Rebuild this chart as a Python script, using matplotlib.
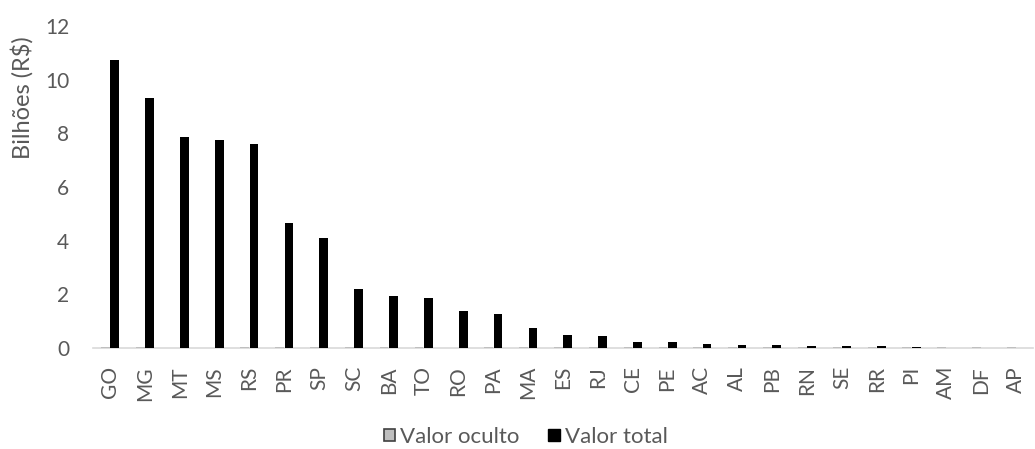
import matplotlib
matplotlib.use('Agg')
import matplotlib.pyplot as plt
from matplotlib.patches import Patch
import numpy as np

# States ordered by total value
states = ['GO', 'MG', 'MT', 'MS', 'RS', 'PR', 'SP', 'SC', 'BA', 'TO', 'RO', 'PA', 'MA',
          'ES', 'RJ', 'CE', 'PE', 'AC', 'AL', 'PB', 'RN', 'SE', 'RR', 'PI', 'AM', 'DF', 'AP']
valor_total = [10.75, 9.3, 7.85, 7.75, 7.6, 4.65, 4.1, 2.2, 1.92, 1.88, 1.37, 1.26, 0.74,
               0.5, 0.44, 0.21, 0.21, 0.16, 0.11, 0.1, 0.09, 0.08, 0.07, 0.02, 0.0, 0.0, 0.0]
valor_oculto = [0.03, 0.03, 0.0, 0.0, 0.03, 0.03, 0.05, 0.03, 0.03, 0.03, 0.0, 0.03, 0.03,
                0.03, 0.03, 0.03, 0.03, 0.03, 0.03, 0.03, 0.03, 0.03, 0.03, 0.04, 0.03, 0.03, 0.03]
y_ticks = [0, 2, 4, 6, 8, 10, 12]

plt.rcParams['font.family'] = ['Lato', 'DejaVu Sans']
text_color = '#595959'

fig = plt.figure(figsize=(10.35, 4.49), dpi=100)
ax = fig.add_axes([0.0895, 0.225, 0.909, 0.717])

x = np.arange(len(states))
w = 0.25
ax.bar(x - 0.135, valor_oculto, w, color='#bfbfbf', label='Valor oculto', zorder=3)
ax.bar(x + 0.135, valor_total, w, color='black', label='Valor total', zorder=3)

ax.set_xlim(-0.5, len(states) - 0.5)
ax.set_ylim(0, 12)
ax.set_yticks(y_ticks)
ax.set_xticks(x)
ax.set_xticklabels(states, rotation=90)
ax.tick_params(axis='both', length=0, labelsize=15, colors=text_color)
ax.tick_params(axis='x', pad=13)
ax.tick_params(axis='y', pad=17)

for side in ['top', 'right', 'left']:
    ax.spines[side].set_visible(False)
ax.spines['bottom'].set_color('#d9d9d9')
ax.spines['bottom'].set_linewidth(1.2)

ax.set_ylabel('Bilhões (R$)', fontsize=17, color=text_color)
ax.yaxis.set_label_coords(-0.063, 0.778)

# legend with square markers
handles = [Patch(facecolor='#bfbfbf', edgecolor='#404040', linewidth=1.2, label='Valor oculto'),
           Patch(facecolor='black', edgecolor='black', label='Valor total')]
fig.legend(handles=handles, loc='center', bbox_to_anchor=(0.508, 0.027), ncol=2,
           frameon=False, fontsize=16, handlelength=0.5, handleheight=0.5,
           handletextpad=0.25, columnspacing=1.3, labelcolor=text_color)

fig.savefig('out.png', dpi=100)
